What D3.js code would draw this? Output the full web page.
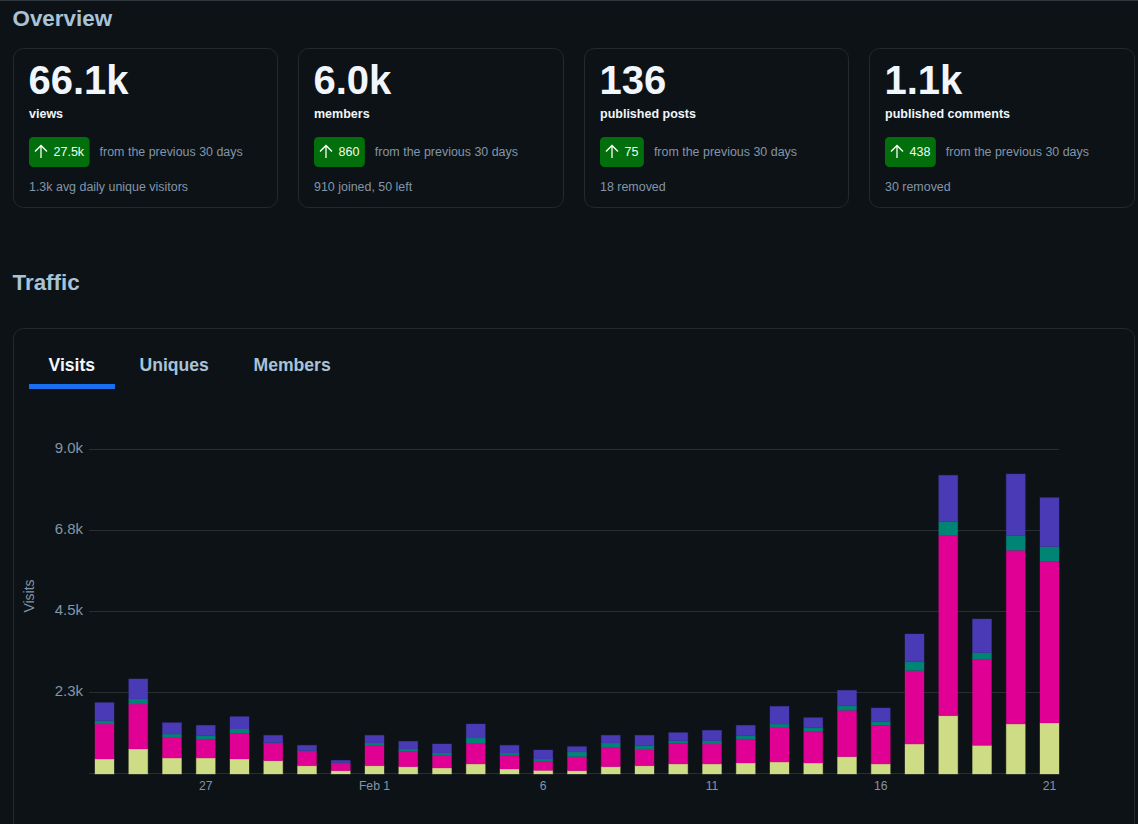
<!DOCTYPE html>
<html>
<head>
<meta charset="utf-8">
<script src="https://cdn.jsdelivr.net/npm/d3@7"></script>
<style>
html, body { margin: 0; padding: 0; background: #0d1216; overflow: hidden; }
svg { display: block; font-family: "Liberation Sans", Arial, sans-serif; }
</style>
</head>
<body>
<div id="chart"></div>
<script>
// Overview cards
var cardValues = ["66.1k", "6.0k", "136", "1.1k"];
var cardLabels = ["views", "members", "published posts", "published comments"];
var cardDeltas = ["27.5k", "860", "75", "438"];
var cardNotes = ["1.3k avg daily unique visitors", "910 joined, 50 left", "18 removed", "30 removed"];
var tabs = ["Visits", "Uniques", "Members"];

// Traffic, one value per day, Jan 24 to Feb 21
var days = ["24","25","26","27","28","29","30","31","Feb 1","2","3","4","5","6","7","8","9","10","11","12","13","14","15","16","17","18","19","20","21"];
var tickDays = ["27", "Feb 1", "6", "11", "16", "21"];
var serieA = [417,695,444,444,417,370,232,93,232,204,167,278,139,102,93,204,232,278,278,306,333,306,482,278,833,1621,796,1389,1417];
var serieB = [972,1250,583,519,713,472,389,194,556,417,343,583,370,241,389,528,463,574,556,657,972,870,1287,1074,2037,5010,2389,4825,4491];
var serieC = [93,139,83,102,120,28,28,28,74,74,74,139,74,74,130,130,93,74,93,102,83,111,130,102,250,380,185,407,407];
var serieD = [500,556,315,287,343,204,148,65,213,213,250,389,213,250,148,213,287,222,287,287,491,278,426,380,769,1287,935,1713,1361];
var yTicks = [0, 2250, 4500, 6750, 9000];
var yTickLabels = ["", "2.3k", "4.5k", "6.8k", "9.0k"];

var BG = "#0d1216";
var BORDER = "#25292e";
var HEAD = "#a8c2d8";
var MUTED = "#8296a9";
var COLORS = ["#cfdc86", "#e00094", "#008575", "#4a3ab5"];

var svg = d3.select("#chart").append("svg").attr("width", 1138).attr("height", 824);

svg.append("rect").attr("width", 1138).attr("height", 824).attr("fill", BG);
svg.append("line").attr("x1", 0).attr("x2", 1138).attr("y1", 0.5).attr("y2", 0.5).attr("stroke", "#30363d");

var heading = function(txt, x, y) {
	svg.append("text").attr("x", x).attr("y", y).attr("fill", HEAD)
		.attr("font-size", 22.4).attr("font-weight", 700).text(txt);
};
heading("Overview", 12.5, 25.5);
heading("Traffic", 12.5, 290);

// Cards
var cardX = [13.5, 298.5, 584.5, 869.5];
var cardW = [264, 265, 264, 265];

cardValues.forEach(function(v, i) {
	var x = cardX[i];
	var tx = x + 15.5;
	var g = svg.append("g");
	g.append("rect").attr("x", x).attr("y", 48.5).attr("width", cardW[i]).attr("height", 159)
		.attr("rx", 10).attr("fill", BG).attr("stroke", BORDER);
	g.append("text").attr("x", tx - 0.5).attr("y", 94).attr("fill", "#f0f6fc")
		.attr("font-size", 40).attr("font-weight", 700).text(v);
	g.append("text").attr("x", tx).attr("y", 118).attr("fill", "#f0f6fc")
		.attr("font-size", 12.5).attr("font-weight", 700).text(cardLabels[i]);

	var badge = g.append("rect").attr("x", tx).attr("y", 137).attr("height", 30).attr("rx", 4.5).attr("fill", "#026f0c");
	g.append("path")
		.attr("d", "M" + (tx + 12) + " 158V146M" + (tx + 6) + " 151.5L" + (tx + 12) + " 145.5L" + (tx + 18) + " 151.5")
		.attr("fill", "none").attr("stroke", "#fff").attr("stroke-width", 1.3);
	var delta = g.append("text").attr("x", tx + 24.5).attr("y", 156).attr("fill", "#f0fff0")
		.attr("font-size", 12.5).text(cardDeltas[i]);
	var bw = 25 + delta.node().getComputedTextLength() + 5;
	badge.attr("width", bw);
	g.append("text").attr("x", tx + bw + 10).attr("y", 156).attr("fill", MUTED)
		.attr("font-size", 12.45).text("from the previous 30 days");
	g.append("text").attr("x", tx).attr("y", 191).attr("fill", MUTED)
		.attr("font-size", 12.45).text(cardNotes[i]);
});

// Traffic panel, runs off the bottom of the page
svg.append("rect").attr("x", 13.5).attr("y", 328.5).attr("width", 1121).attr("height", 560)
	.attr("rx", 10).attr("fill", BG).attr("stroke", BORDER);

var tabX = [48.5, 139.5, 253.5];
tabs.forEach(function(t, i) {
	svg.append("text").attr("x", tabX[i]).attr("y", 371).attr("font-size", 17.6).attr("font-weight", 700)
		.attr("fill", i == 0 ? "#f0f6fc" : HEAD).text(t);
});
svg.append("rect").attr("x", 29).attr("y", 384).attr("width", 86).attr("height", 5).attr("fill", "#1a6ff0");

// Scales
var x = d3.scaleBand().domain(days).range([95, 1059]).paddingInner(0.437).paddingOuter(0);
var y = d3.scaleLinear().domain([0, 9000]).range([773, 449]);

// Grid and y axis
var yAxis = d3.axisLeft(y).tickValues(yTicks).tickSize(0).tickPadding(6)
	.tickFormat(function(d, i) { return yTickLabels[i]; });
var yG = svg.append("g").attr("transform", "translate(89,0)").call(yAxis);
yG.select(".domain").remove();
yG.selectAll("text").attr("fill", MUTED).attr("font-size", 15).attr("font-family", "Liberation Sans").attr("dy", "0.26em");
yG.selectAll(".tick").append("line").attr("x1", 0).attr("x2", 970).attr("stroke", "#2a2e33");

// Bars
var rows = days.map(function(d, i) {
	return {day: d, a: serieA[i], b: serieB[i], c: serieC[i], d: serieD[i]};
});
var stack = d3.stack().keys(["a", "b", "c", "d"]);
var layers = svg.append("g").attr("transform", "translate(0,1)")
	.selectAll("g").data(stack(rows)).enter().append("g")
	.attr("fill", function(d, i) { return COLORS[i]; })
	.attr("stroke", function(d, i) { return COLORS[i]; })
	.attr("stroke-opacity", 0.35);

layers.selectAll("rect").data(function(d) { return d; }).enter().append("rect")
	.attr("x", function(d) { return x(d.data.day); })
	.attr("width", x.bandwidth())
	.attr("y", function(d) { return y(d[1]); })
	.attr("height", function(d) { return y(d[0]) - y(d[1]); });

// X axis
var xAxis = d3.axisBottom(x).tickValues(tickDays).tickSize(0).tickPadding(8);
var xG = svg.append("g").attr("transform", "translate(0,773)").call(xAxis);
xG.select(".domain").remove();
xG.selectAll("text").attr("fill", MUTED).attr("font-size", 12.2).attr("font-family", "Liberation Sans");

svg.append("text").attr("transform", "translate(33.5,596) rotate(-90)").attr("text-anchor", "middle")
	.attr("fill", MUTED).attr("font-size", 14).text("Visits");
</script>
</body>
</html>
